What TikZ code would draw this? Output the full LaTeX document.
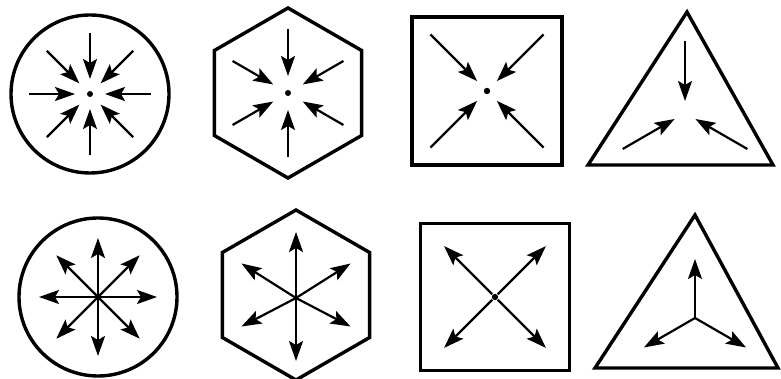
\documentclass[tikz,border=0pt]{standalone}
\usetikzlibrary{arrows.meta,shapes.geometric}
\begin{document}
\begin{tikzpicture}[x=1pt,y=1pt]
\tikzset{
  outline/.style={draw=black,line width=3.4pt,line join=miter,inner sep=0pt,outer sep=0pt},
  roundframe/.style={outline,circle,minimum size=158pt},
  hexframe/.style={outline,regular polygon,regular polygon sides=6,shape border rotate=30,minimum size=170pt},
  squareframe/.style={outline,rectangle,minimum width=150pt,minimum height=148pt},
  flowline/.style={draw=black,line width=2.2pt},
  inward/.style={flowline,-{Stealth[length=20pt,width=14pt,inset=4pt]}},
  outward/.style={flowline,-{Stealth[length=20pt,width=14pt,inset=4pt]}},
  hubdot/.style={fill=black}
}
\useasboundingbox (0,0) rectangle (781,379);
% top row: flow towards the centre
\node[roundframe] (n_c0) at (90,285) {};
\node[hexframe] (n_h0) at (288,286) {};
\node[squareframe] (n_s0) at (487,288) {};
\coordinate (n_t0) at (685,266);
\draw[outline] (687,367) -- (588,214) -- (773,214) -- cycle;
\fill[hubdot] (n_c0.center) circle (3pt);
\fill[hubdot] (n_h0.center) circle (3pt);
\fill[hubdot] (n_s0.center) circle (3.2pt);
\draw[inward] ([shift={(0:61)}]n_c0.center) -- ([shift={(0:15)}]n_c0.center);
\draw[inward] ([shift={(45:61)}]n_c0.center) -- ([shift={(45:15)}]n_c0.center);
\draw[inward] ([shift={(90:61)}]n_c0.center) -- ([shift={(90:15)}]n_c0.center);
\draw[inward] ([shift={(135:61)}]n_c0.center) -- ([shift={(135:15)}]n_c0.center);
\draw[inward] ([shift={(180:61)}]n_c0.center) -- ([shift={(180:15)}]n_c0.center);
\draw[inward] ([shift={(225:61)}]n_c0.center) -- ([shift={(225:15)}]n_c0.center);
\draw[inward] ([shift={(270:61)}]n_c0.center) -- ([shift={(270:15)}]n_c0.center);
\draw[inward] ([shift={(315:61)}]n_c0.center) -- ([shift={(315:15)}]n_c0.center);
\draw[inward] ([shift={(30:64)}]n_h0.center) -- ([shift={(30:17)}]n_h0.center);
\draw[inward] ([shift={(90:64)}]n_h0.center) -- ([shift={(90:17)}]n_h0.center);
\draw[inward] ([shift={(150:64)}]n_h0.center) -- ([shift={(150:17)}]n_h0.center);
\draw[inward] ([shift={(210:64)}]n_h0.center) -- ([shift={(210:17)}]n_h0.center);
\draw[inward] ([shift={(270:64)}]n_h0.center) -- ([shift={(270:17)}]n_h0.center);
\draw[inward] ([shift={(330:64)}]n_h0.center) -- ([shift={(330:17)}]n_h0.center);
\draw[inward] ([shift={(45:80)}]n_s0.center) -- ([shift={(45:14)}]n_s0.center);
\draw[inward] ([shift={(135:80)}]n_s0.center) -- ([shift={(135:14)}]n_s0.center);
\draw[inward] ([shift={(225:80)}]n_s0.center) -- ([shift={(225:14)}]n_s0.center);
\draw[inward] ([shift={(315:80)}]n_s0.center) -- ([shift={(315:14)}]n_s0.center);
\draw[inward] ([shift={(90:72)}]n_t0) -- ([shift={(90:12)}]n_t0);
\draw[inward] ([shift={(210:72)}]n_t0) -- ([shift={(210:12)}]n_t0);
\draw[inward] ([shift={(330:72)}]n_t0) -- ([shift={(330:12)}]n_t0);
% bottom row: flow away from the centre
\node[roundframe] (n_c1) at (98,82) {};
\node[hexframe] (n_h1) at (296,84) {};
\node[squareframe,minimum width=149pt,minimum height=147pt] (n_s1) at (495,82) {};
\coordinate (n_t1) at (695,61);
\draw[outline] (695,164) -- (595,11) -- (778,11) -- cycle;
\fill[hubdot] (n_s1.center) circle (3.2pt);
\draw[outward] (n_c1.center) -- ([shift={(0:59)}]n_c1.center);
\draw[outward] (n_c1.center) -- ([shift={(45:59)}]n_c1.center);
\draw[outward] (n_c1.center) -- ([shift={(90:59)}]n_c1.center);
\draw[outward] (n_c1.center) -- ([shift={(135:59)}]n_c1.center);
\draw[outward] (n_c1.center) -- ([shift={(180:59)}]n_c1.center);
\draw[outward] (n_c1.center) -- ([shift={(225:59)}]n_c1.center);
\draw[outward] (n_c1.center) -- ([shift={(270:59)}]n_c1.center);
\draw[outward] (n_c1.center) -- ([shift={(315:59)}]n_c1.center);
\draw[outward] ([shift={(0,-3)}]n_h1.center) -- ([shift={(30:63)}]n_h1.center);
\draw[outward] ([shift={(0,-3)}]n_h1.center) -- ([shift={(90:63)}]n_h1.center);
\draw[outward] ([shift={(0,-3)}]n_h1.center) -- ([shift={(150:63)}]n_h1.center);
\draw[outward] ([shift={(0,-3)}]n_h1.center) -- ([shift={(210:63)}]n_h1.center);
\draw[outward] ([shift={(0,-3)}]n_h1.center) -- ([shift={(270:66)}]n_h1.center);
\draw[outward] ([shift={(0,-3)}]n_h1.center) -- ([shift={(330:63)}]n_h1.center);
\draw[outward] ([shift={(45:4)}]n_s1.center) -- ([shift={(45:72)}]n_s1.center);
\draw[outward] ([shift={(135:4)}]n_s1.center) -- ([shift={(135:72)}]n_s1.center);
\draw[outward] ([shift={(225:4)}]n_s1.center) -- ([shift={(225:72)}]n_s1.center);
\draw[outward] ([shift={(315:4)}]n_s1.center) -- ([shift={(315:72)}]n_s1.center);
\draw[outward] (n_t1) -- ([shift={(90:59)}]n_t1);
\draw[outward] (n_t1) -- ([shift={(210:59)}]n_t1);
\draw[outward] (n_t1) -- ([shift={(330:59)}]n_t1);
\end{tikzpicture}
\end{document}
